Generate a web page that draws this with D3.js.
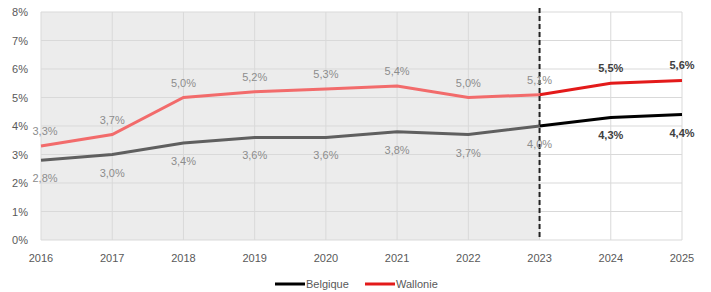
<!DOCTYPE html>
<html><head><meta charset="utf-8">
<script src="https://cdn.jsdelivr.net/npm/d3@7"></script>
<style>body{margin:0;background:#fff}svg{display:block;font-family:"Liberation Sans",Arial,sans-serif}</style>
</head><body><svg id="c" width="711" height="292"></svg>
<script>
const years = [2016,2017,2018,2019,2020,2021,2022,2023,2024,2025];
const belgique = [2.8,3.0,3.4,3.6,3.6,3.8,3.7,4.0,4.3,4.4];
const wallonie = [3.3,3.7,5.0,5.2,5.3,5.4,5.0,5.1,5.5,5.6];
const yTicks = [0,1,2,3,4,5,6,7,8];
const splitYear = 2023;
const seriesNames = ["Belgique","Wallonie"];

const svg = d3.select("#c");
const x = d3.scaleLinear().domain([2016,2025]).range([41,682]);
const y = d3.scaleLinear().domain([0,8]).range([240,12]);
const fmt = v => v.toFixed(1).replace(".", ",") + "%";

// grey historical background
svg.append("rect").attr("x", x(2016)).attr("y", y(8)).attr("width", x(splitYear)-x(2016)).attr("height", y(0)-y(8)).attr("fill","#ececec");

// grid
svg.append("g").selectAll("line").data(yTicks).join("line")
  .attr("x1", x(2016)).attr("x2", x(2025)).attr("y1", d=>y(d)).attr("y2", d=>y(d))
  .attr("stroke","#d9d9d9").attr("stroke-width",1);
svg.append("g").selectAll("line").data(years).join("line")
  .attr("x1", d=>x(d)).attr("x2", d=>x(d)).attr("y1", y(8)).attr("y2", y(0))
  .attr("stroke","#d9d9d9").attr("stroke-width",1);

// axes labels
svg.append("g").selectAll("text").data(yTicks).join("text")
  .attr("x", 28).attr("y", d=>y(d)+4).attr("text-anchor","end")
  .attr("font-size",11).attr("fill","#595959").text(d=>d+"%");
svg.append("g").selectAll("text").data(years).join("text")
  .attr("x", d=>x(d)).attr("y", 262).attr("text-anchor","middle")
  .attr("font-size",11).attr("fill","#595959").text(d=>d);

// lines
const line = d3.line().x(d=>x(d[0])).y(d=>y(d[1]));
function drawSeries(vals, histColor, foreColor){
  const pts = years.map((yr,i)=>[yr, vals[i]]);
  const hist = pts.filter(p=>p[0]<=splitYear);
  const fore = pts.filter(p=>p[0]>=splitYear);
  svg.append("path").attr("d", line(hist)).attr("fill","none").attr("stroke",histColor).attr("stroke-width",3);
  svg.append("path").attr("d", line(fore)).attr("fill","none").attr("stroke",foreColor).attr("stroke-width",3);
}
drawSeries(belgique, "#5f5f5f", "#000000");
drawSeries(wallonie, "#f26b6b", "#e31a1a");

// dashed split line
svg.append("line").attr("x1", x(splitYear)).attr("x2", x(splitYear)).attr("y1", 8).attr("y2", y(0))
  .attr("stroke","#222").attr("stroke-width",2).attr("stroke-dasharray","5,3");

// labels
function labels(vals, dy){
  svg.append("g").selectAll("text").data(years).join("text")
    .attr("x", (d,i)=> i===0 ? x(d)+4 : x(d))
    .attr("y", (d,i)=> y(vals[i]) + dy)
    .attr("text-anchor","middle")
    .attr("font-size",11)
    .attr("font-weight", d=> d>splitYear ? "bold" : "normal")
    .attr("fill", d=> d>splitYear ? "#404040" : "#8c8c8c")
    .text((d,i)=>fmt(vals[i]));
}
labels(wallonie, -11);
labels(belgique, 22);

// legend
const leg = [{name:seriesNames[0], color:"#000000", x:275},{name:seriesNames[1], color:"#e31a1a", x:365}];
const lg = svg.append("g");
leg.forEach(l=>{
  lg.append("line").attr("x1", l.x).attr("x2", l.x+30).attr("y1",284).attr("y2",284).attr("stroke",l.color).attr("stroke-width",3);
  lg.append("text").attr("x", l.x+31).attr("y",288).attr("font-size",11).attr("fill","#595959").text(l.name);
});
</script></body></html>
